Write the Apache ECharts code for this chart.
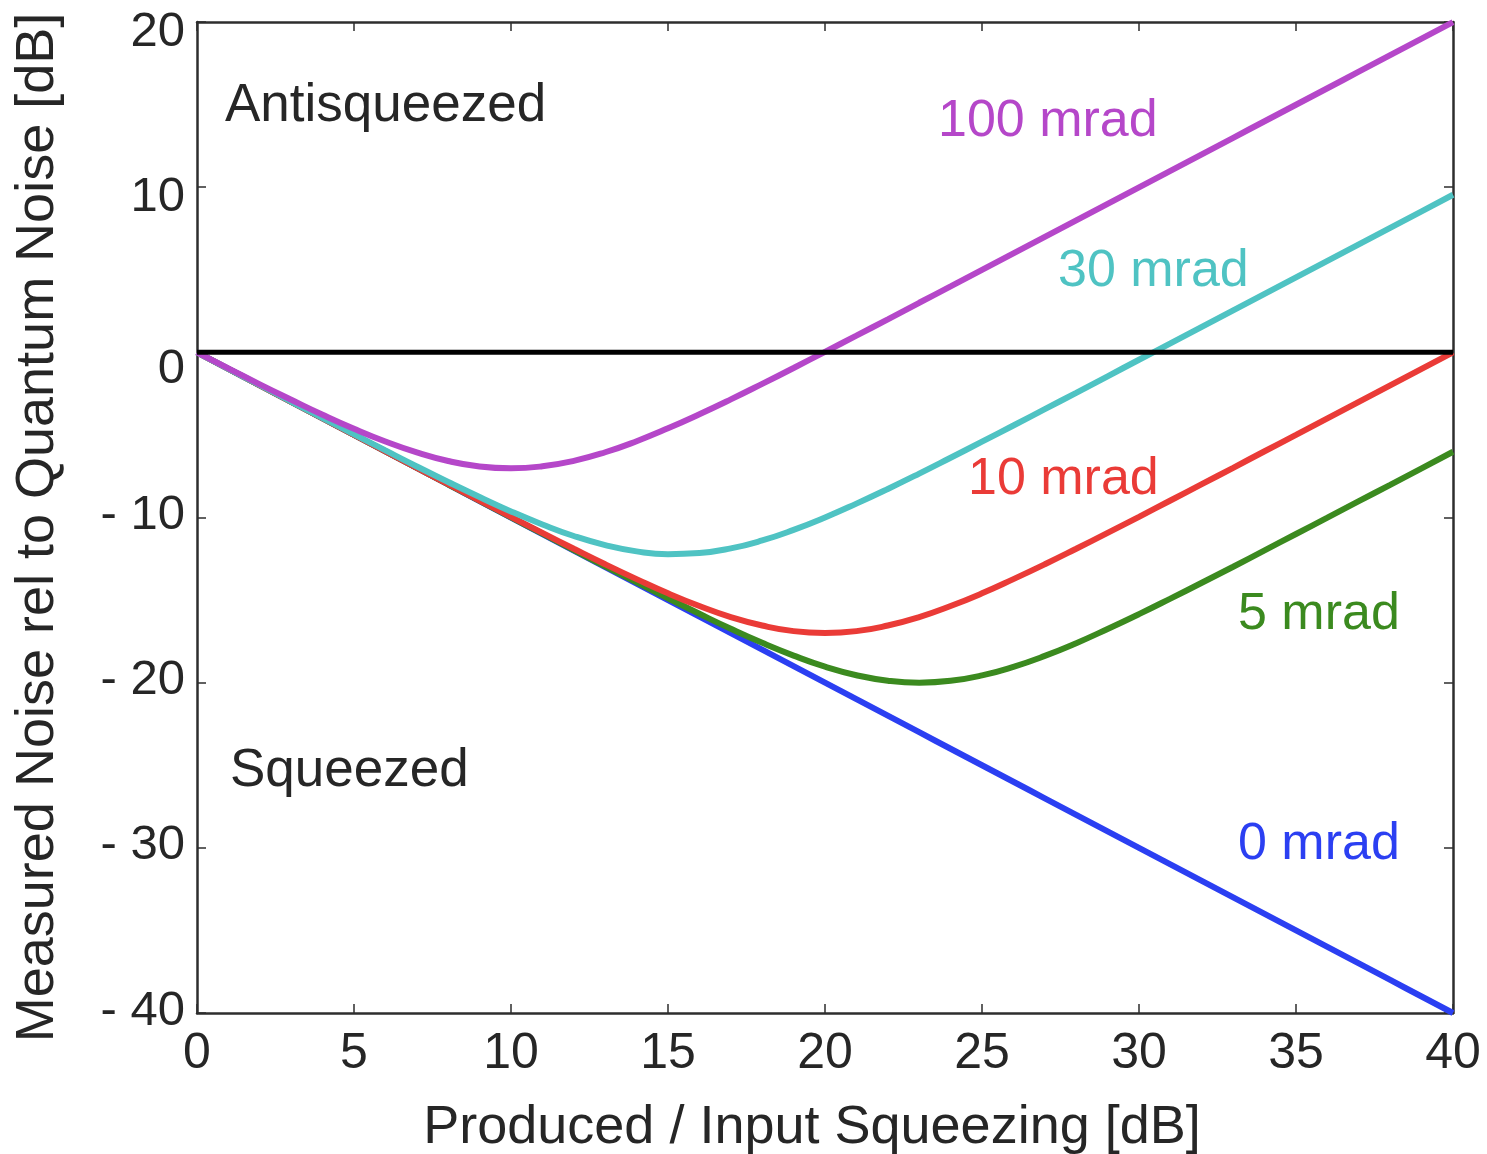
<!DOCTYPE html>
<html>
<head>
<meta charset="utf-8">
<script src="https://cdn.jsdelivr.net/npm/echarts@6/dist/echarts.min.js"></script>
<style>
html,body{margin:0;padding:0;background:#fff;}
#chart{width:1487px;height:1154px;}
</style>
</head>
<body>
<div id="chart"></div>
<script>
// Input squeezing [dB]
var inputSqueezing = [0,1,2,3,4,5,6,7,8,9,10,11,12,13,14,15,16,17,18,19,20,21,22,23,24,25,26,27,28,29,30,31,32,33,34,35,36,37,38,39,40];
// Measured noise [dB]
var noise0mrad = [0,-1,-2,-3,-4,-5,-6,-7,-8,-9,-10,-11,-12,-13,-14,-15,-16,-17,-18,-19,-20,-21,-22,-23,-24,-25,-26,-27,-28,-29,-30,-31,-32,-33,-34,-35,-36,-37,-38,-39,-40];
var noise5mrad = [0,-1.00,-2.00,-3.00,-4.00,-5.00,-6.00,-7.00,-8.00,-8.99,-9.99,-10.98,-11.97,-12.96,-13.93,-14.89,-15.83,-16.74,-17.59,-18.36,-19.03,-19.55,-19.88,-20.00,-19.89,-19.56,-19.04,-18.38,-17.61,-16.75,-15.85,-14.91,-13.95,-12.98,-11.99,-11.00,-10.01,-9.01,-8.02,-7.02,-6.02];
var noise10mrad = [0,-1.00,-2.00,-3.00,-4.00,-5.00,-5.99,-6.99,-7.98,-8.97,-9.96,-10.93,-11.89,-12.83,-13.73,-14.59,-15.36,-16.03,-16.54,-16.88,-16.99,-16.88,-16.54,-16.03,-15.36,-14.59,-13.73,-12.83,-11.89,-10.93,-9.96,-8.97,-7.98,-6.99,-5.99,-5.00,-4.00,-3.00,-2.00,-1.00,0.00];
var noise30mrad = [0,-1.00,-1.99,-2.99,-3.98,-4.96,-5.94,-6.91,-7.85,-8.76,-9.63,-10.42,-11.12,-11.67,-12.05,-12.22,-12.15,-11.87,-11.39,-10.75,-10.00,-9.16,-8.27,-7.34,-6.38,-5.41,-4.43,-3.44,-2.45,-1.45,-0.45,0.54,1.54,2.54,3.54,4.54,5.54,6.54,7.54,8.54,9.54];
var noise100mrad = [0,-0.97,-1.94,-2.87,-3.78,-4.63,-5.40,-6.06,-6.58,-6.91,-7.02,-6.90,-6.57,-6.05,-5.38,-4.60,-3.75,-2.85,-1.91,-0.95,0.03,1.01,2.00,3.00,3.99,4.99,5.99,6.99,7.99,8.99,9.99,10.99,11.99,12.99,13.99,14.99,15.99,16.99,17.99,18.99,19.99];
var seriesNames = ['0 mrad','5 mrad','10 mrad','30 mrad','100 mrad'];
var quantumNoiseLevel = 0;

var FONT = '"Liberation Sans", Arial, Helvetica, sans-serif';
var TXT = '#262626';
var colors = {
  '0 mrad': '#2b3ff2',
  '5 mrad': '#3b8a1f',
  '10 mrad': '#ea3b37',
  '30 mrad': '#4fc3c3',
  '100 mrad': '#b547c9'
};

function pairs(ys){ return inputSqueezing.map(function(x,i){ return [x, ys[i]]; }); }
var allData = [noise0mrad, noise5mrad, noise10mrad, noise30mrad, noise100mrad];

var chart = echarts.init(document.getElementById('chart'));

var series = seriesNames.map(function(name, i){
  return {
    name: name,
    type: 'line',
    data: pairs(allData[i]),
    smooth: true,
    showSymbol: false,
    symbol: 'none',
    lineStyle: { color: colors[name], width: 6 },
    z: 3 + i,
    silent: true
  };
});
series.push({
  name: 'QN',
  type: 'line',
  data: [[0, quantumNoiseLevel], [40, quantumNoiseLevel]],
  showSymbol: false,
  symbol: 'none',
  lineStyle: { color: '#000', width: 5 },
  z: 20,
  silent: true
});

function yFmt(v){
  if (v < 0) return '{n|- ' + Math.abs(v) + '}';
  if (v === 0) return '{z|0}';
  return '{p|' + v + '}';
}
var yRich = {
  n: { fontSize: 49, fontFamily: FONT, color: TXT, padding: [0,0,4,0] },
  z: { fontSize: 49, fontFamily: FONT, color: TXT, padding: [34,0,0,0] },
  p: { fontSize: 49, fontFamily: FONT, color: TXT, padding: [20,0,0,0] }
};

var axisLineStyle = { color: '#2e2e2e', width: 2.5 };
var tickStyle = { show: true, inside: true, length: 9, lineStyle: { color: '#2e2e2e', width: 1.5 } };

chart.setOption({
  animation: false,
  backgroundColor: '#fff',
  grid: { left: 197, right: 34, top: 22, bottom: 141, containLabel: false, outerBoundsMode: 'none' },
  xAxis: [{
    type: 'value', min: 0, max: 40, interval: 5, position: 'bottom',
    axisLine: { show: true, onZero: false, lineStyle: axisLineStyle },
    axisTick: tickStyle,
    axisLabel: { fontSize: 50, fontFamily: FONT, color: TXT, margin: 16 },
    splitLine: { show: false },
    name: 'Produced / Input Squeezing [dB]',
    nameLocation: 'middle', nameGap: 88,
    nameTextStyle: { fontSize: 54, fontFamily: FONT, color: TXT, padding: [0, 26, 0, 0] }
  }, {
    type: 'value', min: 0, max: 40, interval: 5, position: 'top',
    axisLine: { show: true, onZero: false, lineStyle: axisLineStyle },
    axisTick: tickStyle,
    axisLabel: { show: false },
    splitLine: { show: false }
  }],
  yAxis: [{
    type: 'value', min: -40, max: 20, interval: 10, position: 'left',
    axisLine: { show: true, onZero: false, lineStyle: axisLineStyle },
    axisTick: tickStyle,
    axisLabel: { formatter: yFmt, rich: yRich, margin: 12 },
    splitLine: { show: false },
    name: 'Measured Noise rel to Quantum Noise [dB]',
    nameLocation: 'middle', nameGap: 132,
    nameTextStyle: { fontSize: 54, fontFamily: FONT, color: TXT, padding: [0, 20, 0, 0] }
  }, {
    type: 'value', min: -40, max: 20, interval: 10, position: 'right',
    axisLine: { show: true, onZero: false, lineStyle: axisLineStyle },
    axisTick: tickStyle,
    axisLabel: { show: false },
    splitLine: { show: false }
  }],
  graphic: [
    { type: 'text', x: 225, y: 106, style: { text: 'Antisqueezed', font: '53px ' + FONT, fill: TXT, verticalAlign: 'middle', align: 'left' } },
    { type: 'text', x: 230, y: 771, style: { text: 'Squeezed', font: '53px ' + FONT, fill: TXT, verticalAlign: 'middle', align: 'left' } },
    { type: 'text', x: 938, y: 122, style: { text: '100 mrad', font: '52px ' + FONT, fill: colors['100 mrad'], verticalAlign: 'middle', align: 'left' } },
    { type: 'text', x: 1058, y: 272, style: { text: '30 mrad', font: '52px ' + FONT, fill: colors['30 mrad'], verticalAlign: 'middle', align: 'left' } },
    { type: 'text', x: 968, y: 480, style: { text: '10 mrad', font: '52px ' + FONT, fill: colors['10 mrad'], verticalAlign: 'middle', align: 'left' } },
    { type: 'text', x: 1238, y: 615, style: { text: '5 mrad', font: '52px ' + FONT, fill: colors['5 mrad'], verticalAlign: 'middle', align: 'left' } },
    { type: 'text', x: 1238, y: 845, style: { text: '0 mrad', font: '52px ' + FONT, fill: colors['0 mrad'], verticalAlign: 'middle', align: 'left' } }
  ],
  series: series
});
</script>
</body>
</html>
